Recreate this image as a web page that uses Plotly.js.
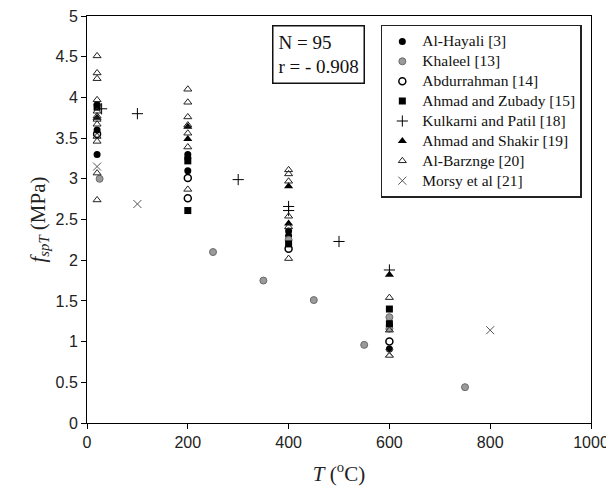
<!DOCTYPE html>
<html>
<head>
<meta charset="utf-8">
<script src="https://cdn.plot.ly/plotly-3.0.1.min.js"></script>
<style>html,body{margin:0;padding:0;background:#fff;}#chart{width:606px;height:486px;}</style>
</head>
<body>
<div id="chart"></div>
<script>
// Series data: temperature T (°C) and splitting tensile strength f_spT (MPa)
const seriesNames = ["Al-Hayali [3]", "Khaleel [13]", "Abdurrahman [14]", "Ahmad and Zubady [15]",
  "Kulkarni and Patil [18]", "Ahmad and Shakir [19]", "Al-Barznge [20]", "Morsy et al [21]"];

const alHayaliT = [20, 20, 20, 200, 200, 200, 400, 400, 600, 600];
const alHayaliF = [3.91, 3.60, 3.30, 3.30, 3.26, 3.10, 2.30, 2.36, 1.20, 0.91];

const khaleelT = [25, 250, 350, 450, 550, 750, 600, 600, 400];
const khaleelF = [3.00, 2.10, 1.75, 1.51, 0.96, 0.44, 1.30, 1.16, 2.25];

const abdurrahmanT = [20, 200, 200, 400, 600];
const abdurrahmanF = [3.55, 3.01, 2.76, 2.14, 1.00];

const zubadyT = [20, 200, 200, 400, 600, 600];
const zubadyF = [3.88, 3.22, 2.61, 2.20, 1.40, 1.22];

const kulkarniT = [29, 100, 300, 400, 400, 500, 600];
const kulkarniF = [3.86, 3.80, 2.99, 2.66, 2.61, 2.23, 1.88];

const shakirT = [20, 200, 200, 400, 400, 600];
const shakirF = [3.75, 3.64, 3.49, 2.91, 2.45, 1.82];

const barzngeT = [20, 20, 20, 20, 20, 20, 20, 20, 20, 20, 20, 20,
  200, 200, 200, 200, 200, 200, 200,
  400, 400, 400, 400, 400, 400,
  600, 600, 600];
const barzngeF = [4.51, 4.30, 4.23, 3.97, 3.83, 3.77, 3.73, 3.67, 3.52, 3.46, 3.07, 2.74,
  4.10, 3.94, 3.76, 3.66, 3.56, 3.39, 2.87,
  3.11, 3.06, 2.97, 2.54, 2.41, 2.02,
  1.54, 1.14, 0.83];

const morsyT = [20, 100, 800, 600];
const morsyF = [3.15, 2.69, 1.14, 0.86];

const xTicks = [0, 200, 400, 600, 800, 1000];
const yTicks = [0, 0.5, 1, 1.5, 2, 2.5, 3, 3.5, 4, 4.5, 5];

const serif = "Liberation Serif";
const legendLabel = s => "<span style='font-family:\"Liberation Serif\",serif;font-size:15.5px'>" + s + "</span>";

const traces = [
  {x: alHayaliT, y: alHayaliF, name: seriesNames[0], marker: {symbol: "circle", size: 7, color: "#000"}},
  {x: khaleelT, y: khaleelF, name: seriesNames[1], marker: {symbol: "circle", size: 7, color: "#9a9a9a", line: {color: "#6a6a6a", width: 1}}},
  {x: abdurrahmanT, y: abdurrahmanF, name: seriesNames[2], marker: {symbol: "circle-open", size: 7, color: "#000", line: {width: 1.5}}},
  {x: zubadyT, y: zubadyF, name: seriesNames[3], marker: {symbol: "square", size: 7, color: "#000"}},
  {x: kulkarniT, y: kulkarniF, name: seriesNames[4], marker: {symbol: "cross-thin-open", size: 8, color: "#000", line: {width: 1}}},
  {x: shakirT, y: shakirF, name: seriesNames[5], marker: {symbol: "triangle-up", size: 8, color: "#000"}},
  {x: barzngeT, y: barzngeF, name: seriesNames[6], marker: {symbol: "triangle-up-open", size: 7, color: "#222", line: {width: 1}}},
  {x: morsyT, y: morsyF, name: seriesNames[7], marker: {symbol: "x-thin-open", size: 8, color: "#555", line: {width: 1}}}
].map(t => Object.assign({type: "scatter", mode: "markers", cliponaxis: false}, t, {name: legendLabel(t.name)}));

const tickFont = {family: "Liberation Sans", size: 16, color: "#222"};

const layout = {
  width: 606, height: 486,
  margin: {l: 87, r: 15, t: 16, b: 63},
  paper_bgcolor: "#fff", plot_bgcolor: "#fff",
  showlegend: true,
  font: {family: serif, color: "#111"},
  xaxis: {
    range: [0, 1000], tickvals: xTicks, ticktext: xTicks.map(String),
    showgrid: false, zeroline: false,
    showline: true, mirror: true, linecolor: "#000", linewidth: 1,
    ticks: "outside", ticklen: 5, tickcolor: "#000",
    tickfont: tickFont, ticklabeloverflow: "allow",
    title: {text: "<i>T</i> (<sup>o</sup>C)", font: {family: serif, size: 21, color: "#222"}, standoff: 16}
  },
  yaxis: {
    range: [0, 5], tickvals: yTicks, ticktext: yTicks.map(String),
    showgrid: false, zeroline: false,
    showline: true, mirror: true, linecolor: "#000", linewidth: 1,
    ticks: "outside", ticklen: 5, tickcolor: "#000",
    tickfont: tickFont, ticklabeloverflow: "allow",
    title: {text: "<i>f</i><sub><i>spT</i></sub> (MPa)", font: {family: serif, size: 21, color: "#222"}, standoff: 4}
  },
  legend: {
    x: 0.583, y: 0.978, xanchor: "left", yanchor: "top",
    bgcolor: "#fff", bordercolor: "#222", borderwidth: 1.5,
    font: {family: serif, size: 13, color: "#111"},
    itemwidth: 30
  },
  annotations: [{
    xref: "paper", yref: "paper", x: 0.367, y: 0.978, xanchor: "left", yanchor: "top",
    text: "N = 95<br>r = - 0.908", align: "left", showarrow: false,
    font: {family: serif, size: 19, color: "#111"},
    bordercolor: "#111", borderwidth: 1.5, borderpad: 5, bgcolor: "#fff"
  }]
};

Plotly.newPlot("chart", traces, layout, {displayModeBar: false, staticPlot: true});
</script>
</body>
</html>
